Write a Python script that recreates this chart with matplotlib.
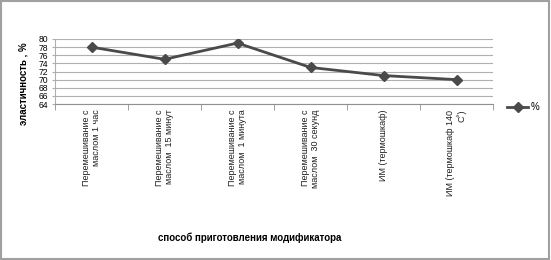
import matplotlib.pyplot as plt
from matplotlib.patches import Rectangle

# Data
categories = ['Перемешивание с\nмаслом 1 час', 'Перемешивание с\nмаслом  15 минут',
              'Перемешивание с\nмаслом  1 минута', 'Перемешивание с\nмаслом  30 секунд',
              'ИМ (термошкаф)', 'ИМ (термошкаф 140\nС˚)']
values = [78, 75, 79, 73, 71, 70]
y_ticks = [64, 66, 68, 70, 72, 74, 76, 78, 80]

plt.rcParams['font.family'] = ['Liberation Sans', 'DejaVu Sans']

fig = plt.figure(figsize=(5.51, 2.6), dpi=100)
ax = fig.add_axes([55 / 551, 1 - 104 / 260, (493 - 55) / 551, (104 - 39) / 260])

x = list(range(len(categories)))
line, = ax.plot(x, values, color='#4a4a4a', linewidth=2, marker='D', markersize=5.5,
                markerfacecolor='#4a4a4a', markeredgecolor='#4a4a4a', label='%')

ax.set_xlim(-0.5, len(categories) - 0.5)
ax.set_ylim(64, 80)
ax.set_yticks(y_ticks)
ax.set_yticklabels([str(v) for v in y_ticks], fontsize=6.2)
ax.yaxis.grid(True, color='#b0b0b0', linewidth=0.8)
ax.tick_params(axis='y', length=2, color='#b0b0b0', pad=3)

# category labels between boundary ticks
ax.set_xticks(x)
ax.set_xticklabels(categories, rotation=90, fontsize=6.5, va='top', ha='center',
                   multialignment='right', color='#202020')
ax.tick_params(axis='x', length=0, pad=4)
ax.set_xticks([i + 0.5 for i in range(-1, len(categories))], minor=True)
ax.tick_params(axis='x', which='minor', length=4, color='#909090', direction='out')

for s in ['top', 'right']:
    ax.spines[s].set_visible(False)
ax.spines['left'].set_color('#b0b0b0')
ax.spines['bottom'].set_color('#909090')

fig.text(24 / 551, 1 - 84 / 260, 'эластичность , %', fontsize=7, fontweight='bold',
         rotation=90, ha='center', va='center')
fig.text(250 / 551, 1 - 238 / 260, 'способ приготовления модификатора', fontsize=7,
         fontweight='bold', ha='center', va='center')

fig.legend(handles=[line], loc='center left', bbox_to_anchor=(507 / 551, 1 - 107 / 260),
           frameon=False, fontsize=7, handlelength=2.2, handletextpad=0.2, borderaxespad=0,
           borderpad=0)

fig.patches.append(Rectangle((0.002, 0.004), 0.994, 0.992, transform=fig.transFigure,
                             fill=False, edgecolor='#a0a0a0', linewidth=1.5))

fig.savefig('out.png', dpi=100)
